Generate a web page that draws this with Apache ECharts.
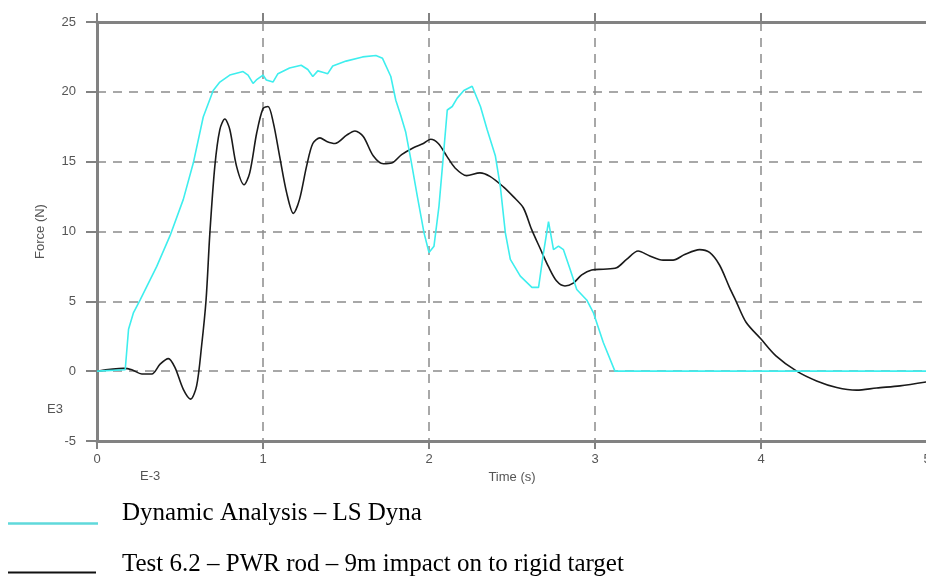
<!DOCTYPE html>
<html>
<head>
<meta charset="utf-8">
<script src="https://cdn.jsdelivr.net/npm/echarts@6/dist/echarts.min.js"></script>
<style>
  html, body { margin: 0; padding: 0; background: #fff; }
  #chart { width: 926px; height: 585px; }
</style>
</head>
<body>
<div id="chart"></div>
<script>
// Dynamic Analysis – LS Dyna (cyan)
const dynaTime = [0, 0.17, 0.19, 0.22, 0.26, 0.36, 0.44, 0.52, 0.58, 0.64, 0.70, 0.74, 0.80, 0.88, 0.91, 0.94, 0.96,
  1.00, 1.02, 1.06, 1.09, 1.16, 1.23, 1.27, 1.30, 1.33, 1.36, 1.39, 1.42, 1.50, 1.60, 1.68, 1.72, 1.77, 1.80, 1.83,
  1.86, 1.89, 1.93, 1.97, 2.00, 2.03, 2.06, 2.09, 2.11, 2.14, 2.17, 2.21, 2.26, 2.31, 2.35, 2.40, 2.43, 2.46, 2.49,
  2.55, 2.62, 2.66, 2.69, 2.72, 2.75, 2.78, 2.81, 2.85, 2.89, 2.95, 2.99, 3.05, 3.12, 5.0];
const dynaForce = [0, 0.1, 3.0, 4.2, 5.1, 7.5, 9.7, 12.3, 14.9, 18.2, 20.1, 20.7, 21.2, 21.45, 21.2, 20.6, 20.85,
  21.2, 20.85, 20.7, 21.3, 21.7, 21.9, 21.6, 21.1, 21.5, 21.4, 21.3, 21.85, 22.2, 22.5, 22.6, 22.4, 21.1, 19.4, 18.3,
  17.1, 15.2, 12.5, 9.9, 8.5, 8.95, 11.8, 15.9, 18.7, 18.95, 19.55, 20.1, 20.4, 18.95, 17.3, 15.4, 13.2, 9.9, 8.0,
  6.8, 6.0, 6.0, 8.5, 10.7, 8.7, 8.95, 8.7, 7.3, 5.85, 5.1, 4.2, 2.05, 0, 0];

// Test 6.2 – PWR rod (black)
const testTime = [0, 0.16, 0.21, 0.27, 0.33, 0.38, 0.43, 0.47, 0.52, 0.564, 0.60, 0.63, 0.657, 0.68, 0.71, 0.74,
  0.77, 0.80, 0.84, 0.886, 0.92, 0.962, 1.00, 1.03, 1.062, 1.10, 1.143, 1.183, 1.22, 1.263, 1.30, 1.343, 1.384,
  1.434, 1.504, 1.554, 1.604, 1.665, 1.725, 1.775, 1.835, 1.906, 1.966, 2.01, 2.056, 2.107, 2.157, 2.227, 2.307,
  2.367, 2.448, 2.508, 2.568, 2.618, 2.669, 2.719, 2.769, 2.819, 2.869, 2.92, 2.98, 3.05, 3.13, 3.19, 3.26, 3.33,
  3.41, 3.47, 3.54, 3.63, 3.69, 3.75, 3.81, 3.85, 3.91, 4.00, 4.09, 4.215, 4.335, 4.456, 4.576, 4.697, 4.837, 5.0];
const testForce = [0, 0.2, 0.1, -0.2, -0.2, 0.5, 0.9, 0.25, -1.3, -2.0, -1.05, 1.8, 5.1, 9.9, 14.7, 17.3,
  18.05, 17.3, 14.7, 13.35, 14.2, 17.05, 18.8, 18.95, 17.8, 15.4, 12.75, 11.3, 12.3, 14.7, 16.3, 16.7, 16.45,
  16.3, 16.9, 17.2, 16.8, 15.4, 14.85, 14.9, 15.5, 16.0, 16.3, 16.6, 16.3, 15.4, 14.55, 14.0, 14.2,
  13.95, 13.2, 12.5, 11.7, 10.15, 8.8, 7.5, 6.45, 6.1, 6.3, 6.9, 7.25, 7.3, 7.4, 8.0, 8.6, 8.25,
  7.95, 7.95, 8.35, 8.7, 8.5, 7.6, 6.0, 5.0, 3.5, 2.3, 1.1, 0, -0.7, -1.17, -1.36, -1.2, -1.05, -0.76];

const legendNames = ['Dynamic Analysis – LS Dyna', 'Test 6.2 – PWR rod – 9m impact on to rigid target'];

const AXIS = '#828282';
const GRID = '#8c8c8c';
const LABEL = '#555';
const CYAN = '#3eeeee';
const sans = '"Liberation Sans", Arial, sans-serif';
const serif = '"Liberation Serif", "Times New Roman", serif';

const pairs = (xs, ys) => xs.map((x, i) => [x, ys[i]]);

const chart = echarts.init(document.getElementById('chart'), null, { renderer: 'canvas' });

chart.setOption({
  animation: false,
  backgroundColor: '#fff',
  grid: { left: 97, right: -1, top: 22, bottom: 144, outerBoundsMode: 'none', containLabel: false },
  xAxis: [
    {
      type: 'value',
      min: 0,
      max: 5,
      interval: 1,
      position: 'bottom',
      name: 'Time (s)',
      nameLocation: 'middle',
      nameGap: 26,
      nameTextStyle: { color: LABEL, fontSize: 13, fontFamily: sans },
      axisLine: { onZero: false, lineStyle: { color: AXIS, width: 3 } },
      axisTick: { length: 8, lineStyle: { color: AXIS, width: 2 } },
      axisLabel: { color: LABEL, fontSize: 13, fontFamily: sans, margin: 12 },
      splitLine: { show: true, lineStyle: { color: GRID, width: 1.5, type: [9, 7] } },
    },
    {
      type: 'value',
      min: 0,
      max: 5,
      interval: 1,
      position: 'top',
      axisLine: { onZero: false, lineStyle: { color: AXIS, width: 3 } },
      axisTick: { length: 9, lineStyle: { color: AXIS, width: 2 } },
      axisLabel: { show: false },
      splitLine: { show: false },
    },
  ],
  yAxis: {
    type: 'value',
    min: -5,
    max: 25,
    interval: 5,
    name: 'Force (N)',
    nameLocation: 'middle',
    nameGap: 50,
    nameTextStyle: { color: LABEL, fontSize: 13, fontFamily: sans },
    axisLine: { show: true, onZero: false, lineStyle: { color: AXIS, width: 3 } },
    axisTick: { show: true, length: 11, lineStyle: { color: AXIS, width: 2 } },
    axisLabel: { color: LABEL, fontSize: 13, fontFamily: sans, margin: 21 },
    splitLine: { lineStyle: { color: GRID, width: 1.5, type: [9, 7] } },
  },
  series: [
    {
      name: legendNames[1],
      type: 'line',
      data: pairs(testTime, testForce),
      showSymbol: false,
      smooth: 0.3,
      lineStyle: { color: '#1a1a1a', width: 1.6 },
      z: 2,
    },
    {
      name: legendNames[0],
      type: 'line',
      data: pairs(dynaTime, dynaForce),
      showSymbol: false,
      lineStyle: { color: CYAN, width: 1.6 },
      z: 3,
    },
  ],
  graphic: [
    { type: 'text', left: 47, top: 403, style: { text: 'E3', fill: LABEL, font: `13px ${sans}` } },
    { type: 'text', left: 140, top: 470, style: { text: 'E-3', fill: LABEL, font: `13px ${sans}` } },
    // legend block under the chart
    { type: 'line', shape: { x1: 8, y1: 523.5, x2: 98, y2: 523.5 }, style: { stroke: '#5fd9db', lineWidth: 2.5 } },
    { type: 'text', x: 122, y: 513, style: { text: legendNames[0], fill: '#000', font: `25px ${serif}`, verticalAlign: 'middle' } },
    { type: 'line', shape: { x1: 8, y1: 572.5, x2: 96, y2: 572.5 }, style: { stroke: '#111', lineWidth: 2 } },
    { type: 'text', x: 122, y: 564.5, style: { text: legendNames[1], fill: '#000', font: `25px ${serif}`, verticalAlign: 'middle' } },
  ],
});
</script>
</body>
</html>
